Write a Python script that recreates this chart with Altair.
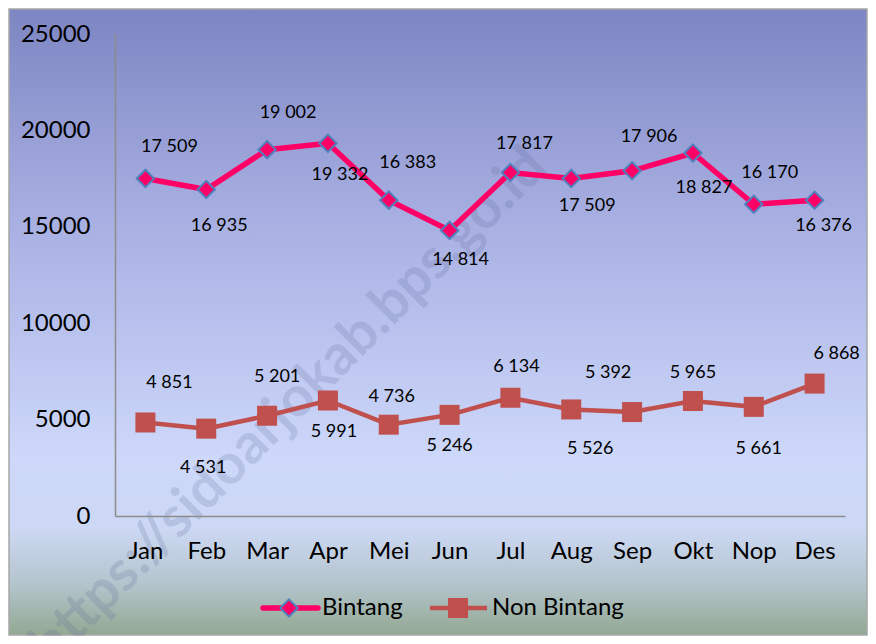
import altair as alt
import pandas as pd

# ---------------- data ----------------
MONTHS = ["Jan", "Feb", "Mar", "Apr", "Mei", "Jun", "Jul", "Aug", "Sep", "Okt", "Nop", "Des"]
BINTANG = [17509, 16935, 19002, 19332, 16383, 14814, 17817, 17509, 17906, 18827, 16170, 16376]
NON_BINTANG = [4851, 4531, 5201, 5991, 4736, 5246, 6134, 5526, 5392, 5965, 5661, 6868]
SERIES = ["Bintang", "Non Bintang"]
Y_TICKS = [0, 5000, 10000, 15000, 20000, 25000]
WATERMARK = "https://sidoarjokab.bps.go.id"

# ---------------- layout (label offsets, px) ----------------
B_DX = [24, 13, 21, 12, 19, 11, 14, 16, 17, 11, 16, 9]
B_DY = [-31, 37, -37, 32, -37, 30, -28, 28, -34, 35, -31, 26]
N_DX = [24, -3, 10, 6, 3, 0, 6, 19, -24, 0, 5, 22]
N_DY = [-39, 39, -39, 32, -28, 31, -31, 40, -39, -28, 42, -30]

COL_B = "#FF0066"
COL_B_EDGE = "#4F81BD"
COL_N = "#C0504D"
FONT = "Lato"

W, H = 730, 482
PAD = {"left": 107, "top": 26, "right": 23, "bottom": 120}


def fmt(v):
    return f"{v:,}".replace(",", " ")


rows = []
for i, m in enumerate(MONTHS):
    rows.append(dict(month=m, series=SERIES[0], value=BINTANG[i], label=fmt(BINTANG[i]), idx=i))
    rows.append(dict(month=m, series=SERIES[1], value=NON_BINTANG[i], label=fmt(NON_BINTANG[i]), idx=i))
df = pd.DataFrame(rows)
one = pd.DataFrame({"k": [0]})

x_enc = alt.X(
    "month:N",
    sort=MONTHS,
    scale=alt.Scale(type="point", padding=0.5),
    axis=alt.Axis(
        title=None, labelAngle=0, ticks=False, labelPadding=23, labelFontSize=24,
        labelFont=FONT, labelColor="black", domainColor="#8C8C8C", domainWidth=1.5, grid=False,
        zindex=1,
    ),
)
y_enc = alt.Y(
    "value:Q",
    scale=alt.Scale(domain=[0, 25000], nice=False),
    axis=alt.Axis(
        title=None, values=Y_TICKS, format="d", ticks=False, labelPadding=25, labelFontSize=24,
        labelFont=FONT, labelColor="black", domainColor="#8C8C8C", domainWidth=1.5, grid=False,
        zindex=1,
    ),
)

gradient = alt.Gradient(
    gradient="linear",
    stops=[
        alt.GradientStop(color="#7E86C3", offset=0.0),
        alt.GradientStop(color="#A9B1E3", offset=0.35),
        alt.GradientStop(color="#CDD8FA", offset=0.72),
        alt.GradientStop(color="#CCD8F4", offset=0.83),
        alt.GradientStop(color="#B4C4CC", offset=0.92),
        alt.GradientStop(color="#92A892", offset=1.0),
    ],
    x1=0, x2=0, y1=0, y2=1,
)

background = alt.Chart(one).mark_rect(fill=gradient, stroke="#A6A6A6", strokeWidth=1.5).encode(
    x=alt.value(-PAD["left"] + 1), x2=alt.value(W + PAD["right"] - 1),
    y=alt.value(-PAD["top"] + 1), y2=alt.value(H + PAD["bottom"] - 1),
)

watermark = alt.Chart(one).mark_text(
    text=WATERMARK, font=FONT, fontSize=56, fontWeight="bold", color="#5E6898",
    opacity=0.2, angle=315, align="center", baseline="middle",
).encode(x=alt.value(174), y=alt.value(372))

base = alt.Chart(df)

line_b = base.transform_filter(alt.datum.series == SERIES[0]).mark_line(
    color=COL_B, strokeWidth=5.5
).encode(x=x_enc, y=y_enc, order="idx:Q")
line_n = base.transform_filter(alt.datum.series == SERIES[1]).mark_line(
    color=COL_N, strokeWidth=4.5
).encode(x=x_enc, y=y_enc, order="idx:Q")

pts_b = base.transform_filter(alt.datum.series == SERIES[0]).mark_point(
    shape="diamond", filled=True, fill=COL_B, stroke=COL_B_EDGE, strokeWidth=2, size=300, opacity=1
).encode(x=x_enc, y=y_enc)
pts_n = base.transform_filter(alt.datum.series == SERIES[1]).mark_point(
    shape="square", filled=True, fill=COL_N, size=400, opacity=1
).encode(x=x_enc, y=y_enc)

labels = []
for s, dxs, dys in [(SERIES[0], B_DX, B_DY), (SERIES[1], N_DX, N_DY)]:
    for i, m in enumerate(MONTHS):
        labels.append(
            base.transform_filter((alt.datum.series == s) & (alt.datum.month == m)).mark_text(
                font=FONT, fontSize=18, color="black", align="center", baseline="middle",
                dx=dxs[i], dy=dys[i],
            ).encode(x=x_enc, y=y_enc, text="label:N")
        )

# manual legend
LEG_Y = 574
leg_b_line = alt.Chart(one).mark_rule(color=COL_B, strokeWidth=5.5, strokeCap="round").encode(
    x=alt.value(148), x2=alt.value(203), y=alt.value(LEG_Y))
leg_b_pt = alt.Chart(one).mark_point(
    shape="diamond", filled=True, fill=COL_B, stroke=COL_B_EDGE, strokeWidth=2, size=300, opacity=1
).encode(x=alt.value(174), y=alt.value(LEG_Y))
leg_b_txt = alt.Chart(one).mark_text(
    text=SERIES[0], font=FONT, fontSize=24, color="black", align="left", baseline="middle"
).encode(x=alt.value(207), y=alt.value(LEG_Y))
leg_n_line = alt.Chart(one).mark_rule(color=COL_N, strokeWidth=4.5).encode(
    x=alt.value(315), x2=alt.value(372), y=alt.value(LEG_Y))
leg_n_pt = alt.Chart(one).mark_point(
    shape="square", filled=True, fill=COL_N, size=400, opacity=1
).encode(x=alt.value(343), y=alt.value(LEG_Y))
leg_n_txt = alt.Chart(one).mark_text(
    text=SERIES[1], font=FONT, fontSize=24, color="black", align="left", baseline="middle"
).encode(x=alt.value(377), y=alt.value(LEG_Y))

chart = alt.layer(
    background, watermark, line_n, line_b, pts_n, pts_b, *labels,
    leg_b_line, leg_b_pt, leg_b_txt, leg_n_line, leg_n_pt, leg_n_txt,
).properties(
    width=W, height=H,
    autosize=alt.AutoSizeParams(type="none"),
    padding=PAD,
).configure_view(stroke=None).configure(background="white")

chart.save("out.html", embed_options={"renderer": "svg", "actions": False})
